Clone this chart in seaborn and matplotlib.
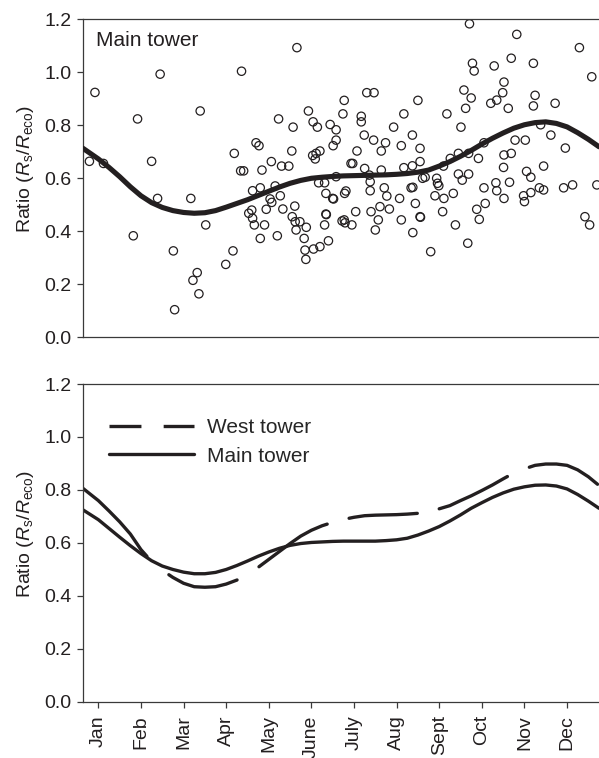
import numpy as np
import matplotlib
matplotlib.use("Agg")
import matplotlib.pyplot as plt
import seaborn as sns
from matplotlib.lines import Line2D

# ---------------- data (month index: Jan = 0 ... Dec = 11) ----------------
months = ["Jan", "Feb", "Mar", "Apr", "May", "June", "July", "Aug", "Sept", "Oct", "Nov", "Dec"]

obs_month = [
    -0.08, 1.45, 0.92, 2.39, 3.19, -0.21, 0.12, 1.25, 3.36, 1.39, 2.17, 2.52, 0.82, 1.76,
    2.32, 2.22, 2.36, 1.79, 2.99, 3.16,
    4.66, 6.30, 6.47, 5.77, 5.74, 7.50, 7.17, 4.93, 4.23, 4.57, 5.04, 5.14, 5.44, 5.58,
    5.58, 5.51, 6.17, 6.17, 6.24, 6.46, 6.74, 6.64, 6.93, 7.11, 7.37, 7.55, 6.07, 5.93,
    5.97, 3.70, 3.77, 4.54, 4.06, 4.30, 4.47, 5.03, 5.11, 5.09, 5.20, 3.34, 3.41, 3.84,
    6.25, 6.64, 7.17, 7.37, 7.55,
    5.58, 5.17, 5.31, 5.34, 5.50, 5.52, 5.81, 5.78, 6.36, 6.38, 6.38, 6.71, 6.77, 7.07,
    7.34, 7.44, 3.80, 3.62, 4.15, 4.27, 4.03, 4.07, 3.94, 4.33, 4.61, 3.53, 3.60, 3.62,
    3.66, 3.90, 4.55, 4.62, 4.73, 4.88, 4.64, 3.80, 4.20, 4.83, 4.85, 4.87, 5.05, 5.20,
    5.40, 5.31, 5.34, 5.35, 5.72, 5.77, 5.79, 5.95, 6.04, 6.40, 6.61, 6.57, 6.83, 6.50,
    7.11, 7.38,
    8.71, 9.82, 11.29, 11.58, 8.78, 8.82, 9.29, 9.69, 10.21, 9.52, 9.49, 8.58, 8.75, 9.35,
    9.21, 10.25, 10.21, 10.72, 9.62, 8.62, 8.18, 8.51, 10.38, 10.62, 10.96, 9.78, 10.02,
    9.05, 8.26, 8.45, 8.69, 8.92, 9.52, 9.69, 9.51, 10.05, 10.45, 8.10,
    10.15, 7.38, 7.61, 7.67, 7.94, 7.96, 7.99, 8.45, 8.54, 8.69, 9.05, 9.33, 9.35, 9.65,
    9.52, 9.98, 10.00, 10.15, 10.35, 10.45, 10.92, 11.13, 11.70, 8.33, 8.11, 7.90, 7.55,
    7.56, 8.08, 9.08, 8.88, 8.94, 8.38, 7.80, 8.67, 11.42, 11.53,
]
obs_ratio = [
    0.923, 0.992, 0.823, 0.853, 0.693, 0.663, 0.655, 0.663, 1.003, 0.523, 0.523, 0.423, 0.382, 0.325,
    0.243, 0.214, 0.163, 0.103, 0.274, 0.325,
    1.092, 0.922, 0.922, 0.893, 0.842, 0.893, 0.842, 0.853, 0.823, 0.792, 0.812, 0.792, 0.802, 0.782,
    0.743, 0.722, 0.833, 0.812, 0.762, 0.743, 0.733, 0.702, 0.792, 0.722, 0.762, 0.712, 0.702, 0.655,
    0.655, 0.733, 0.722, 0.702, 0.662, 0.645, 0.645, 0.685, 0.693, 0.672, 0.702, 0.627, 0.627, 0.630,
    0.636, 0.630, 0.639, 0.646, 0.662,
    0.605, 0.582, 0.582, 0.542, 0.523, 0.521, 0.551, 0.542, 0.611, 0.586, 0.552, 0.563, 0.532, 0.523,
    0.563, 0.504, 0.563, 0.552, 0.570, 0.533, 0.521, 0.508, 0.482, 0.483, 0.494, 0.467, 0.479, 0.448,
    0.423, 0.423, 0.454, 0.435, 0.435, 0.414, 0.404, 0.372, 0.382, 0.372, 0.328, 0.293, 0.332, 0.341,
    0.363, 0.423, 0.464, 0.462, 0.438, 0.442, 0.431, 0.423, 0.473, 0.473, 0.492, 0.442, 0.483, 0.404,
    0.442, 0.394,
    1.182, 1.142, 1.092, 0.982, 1.033, 1.004, 1.023, 1.052, 1.033, 0.962, 0.922, 0.932, 0.902, 0.894,
    0.882, 0.912, 0.872, 0.882, 0.863, 0.863, 0.842, 0.792, 0.801, 0.762, 0.713, 0.743, 0.743,
    0.733, 0.674, 0.693, 0.693, 0.674, 0.687, 0.693, 0.640, 0.625, 0.645, 0.645,
    0.603, 0.565, 0.599, 0.603, 0.599, 0.580, 0.571, 0.615, 0.592, 0.615, 0.563, 0.582, 0.552, 0.584,
    0.523, 0.533, 0.511, 0.545, 0.563, 0.555, 0.563, 0.574, 0.574, 0.542, 0.523, 0.533, 0.454,
    0.452, 0.473, 0.504, 0.482, 0.444, 0.423, 0.322, 0.354, 0.454, 0.423,
]

curve_month = [-0.36, 0.0, 0.25, 0.5, 0.75, 1.0, 1.25, 1.5, 1.75, 2.0, 2.25, 2.5, 2.75,
               3.0, 3.25, 3.5, 3.75, 4.0, 4.25, 4.5, 4.75, 5.0, 5.25, 5.5, 5.75,
               6.0, 6.25, 6.5, 6.75, 7.0, 7.25, 7.5, 7.75, 8.0, 8.25, 8.5, 8.75,
               9.0, 9.25, 9.5, 9.75, 10.0, 10.25, 10.5, 10.75, 11.0, 11.25, 11.5, 11.75]
fit_main_top = [0.712, 0.672, 0.640, 0.605, 0.567, 0.533, 0.507, 0.489, 0.477, 0.470, 0.467, 0.469, 0.477,
                0.490, 0.504, 0.518, 0.534, 0.550, 0.566, 0.580, 0.591, 0.599, 0.603, 0.606, 0.608,
                0.609, 0.610, 0.611, 0.612, 0.614, 0.617, 0.622, 0.630, 0.645, 0.662, 0.682, 0.704,
                0.728, 0.750, 0.770, 0.788, 0.801, 0.809, 0.812, 0.806, 0.793, 0.771, 0.746, 0.718]
main_tower = [0.725, 0.688, 0.655, 0.622, 0.590, 0.560, 0.533, 0.513, 0.500, 0.490, 0.484, 0.484, 0.489,
              0.500, 0.515, 0.532, 0.550, 0.566, 0.580, 0.591, 0.598, 0.602, 0.604, 0.606, 0.607,
              0.607, 0.607, 0.607, 0.609, 0.612, 0.618, 0.630, 0.645, 0.662, 0.683, 0.706, 0.731,
              0.752, 0.772, 0.789, 0.803, 0.812, 0.818, 0.819, 0.815, 0.804, 0.783, 0.758, 0.731]
west_tower = [0.806, 0.760, 0.721, 0.680, 0.634, 0.575, 0.530, 0.497, 0.470, 0.448, 0.435, 0.433, 0.435,
              0.445, 0.460, 0.482, 0.508, 0.538, 0.568, 0.598, 0.626, 0.648, 0.665, 0.678, 0.689,
              0.697, 0.703, 0.705, 0.706, 0.707, 0.709, 0.712, 0.719, 0.729, 0.741, 0.760, 0.778,
              0.798, 0.819, 0.842, 0.864, 0.880, 0.893, 0.898, 0.898, 0.893, 0.876, 0.850, 0.817]

series_labels = ["West tower", "Main tower"]
yticks = [0.0, 0.2, 0.4, 0.6, 0.8, 1.0, 1.2]

# ---------------- style ----------------
INK = "#231f20"
sns.set_theme(style="ticks")
plt.rcParams.update({
    "font.family": ["Liberation Sans", "DejaVu Sans"],
    "mathtext.fontset": "custom",
    "mathtext.rm": "Liberation Sans",
    "mathtext.it": "Liberation Sans:italic",
    "mathtext.bf": "Liberation Sans:bold",
    "lines.scale_dashes": False,
    "axes.edgecolor": "#3a3a3a",
    "axes.linewidth": 0.9,
    "xtick.color": "#3a3a3a",
    "ytick.color": "#3a3a3a",
    "xtick.labelcolor": INK,
    "ytick.labelcolor": INK,
})
FS = 14

fig = plt.figure(figsize=(5.99, 7.58), dpi=100)
ax1 = fig.add_axes([0.1386, 0.5554, 0.8614, 0.4195])
ax2 = fig.add_axes([0.1386, 0.0739, 0.8614, 0.4195])

ylab = r"Ratio ($\mathit{R}_{\mathrm{s}}$/$\mathit{R}_{\mathrm{eco}}$)"

# ---------- top panel ----------
sns.scatterplot(x=obs_month, y=obs_ratio, ax=ax1, marker="o", s=36,
                facecolors="none", edgecolor=INK, linewidth=0.9, legend=False, zorder=2)
sns.lineplot(x=curve_month, y=fit_main_top, ax=ax1, color=INK, lw=3.7,
             estimator=None, sort=False, legend=False, zorder=3)
ax1.text(0.025, 0.932, "Main tower", transform=ax1.transAxes, fontsize=FS + 1,
         color=INK, ha="left", va="center")

# ---------- bottom panel ----------
sns.lineplot(x=curve_month, y=main_tower, ax=ax2, color=INK, lw=2.4,
             estimator=None, sort=False, legend=False)

# West tower: long dashes laid out along the month axis
cm = np.asarray(curve_month, float)
wv = np.asarray(west_tower, float)
dash_on, dash_off, first_gap = 1.60, 0.515, 1.14
period = dash_on + dash_off
start = first_gap - dash_on
while start - period > cm[0] - period:
    start -= period
a = start
while a < cm[-1]:
    lo, hi = max(a, cm[0]), min(a + dash_on, cm[-1])
    if hi > lo:
        inner = cm[(cm > lo) & (cm < hi)]
        xs = np.concatenate([[lo], inner, [hi]])
        ys = np.interp(xs, cm, wv)
        sns.lineplot(x=xs, y=ys, ax=ax2, color=INK, lw=2.4, estimator=None,
                     sort=False, legend=False, solid_capstyle="round")
    a += period

handles = [Line2D([], [], color=INK, lw=2.4, dashes=(23, 16)),
           Line2D([], [], color=INK, lw=2.4)]
ax2.legend(handles, series_labels, loc="upper left", bbox_to_anchor=(0.05, 0.892),
           frameon=False, fontsize=FS + 1, handlelength=4.1, handletextpad=0.6,
           labelspacing=0.45, borderpad=0, borderaxespad=0)

# ---------- axes formatting ----------
for ax in (ax1, ax2):
    ax.set_xlim(-0.36, 11.75)
    ax.set_ylim(0, 1.2)
    ax.set_yticks(yticks)
    ax.set_yticklabels([f"{t:.1f}" for t in yticks], fontsize=FS)
    ax.spines["right"].set_visible(False)
    ax.spines["top"].set_visible(True)
    ax.tick_params(axis="y", direction="out", length=4.5, width=0.9, pad=4)
    ax.set_ylabel(ylab, fontsize=FS, color=INK)
    ax.yaxis.set_label_coords(-0.092, 0.53)
    ax.set_xlabel("")
    ax.grid(False)

ax1.set_xticks([])
ax2.set_xticks(range(12))
ax2.set_xticklabels(months, rotation=90, fontsize=FS, va="top")
ax2.tick_params(axis="x", direction="out", length=4.5, width=0.9, pad=5)

fig.savefig("out.png", dpi=100)
